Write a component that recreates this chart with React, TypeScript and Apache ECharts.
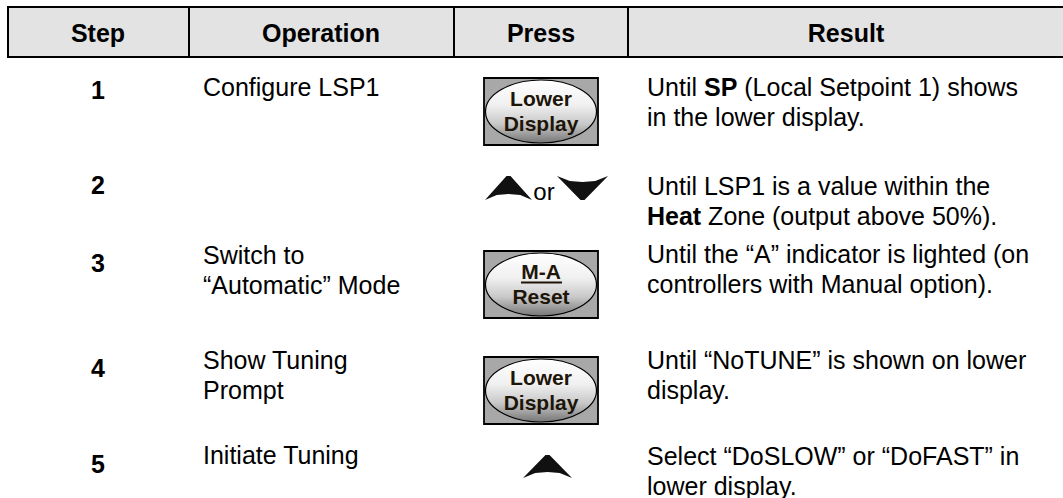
import React, { useEffect, useRef } from 'react';
import * as echarts from 'echarts';

// ---------- data ----------
const HEADERS = ['Step', 'Operation', 'Press', 'Result'];
const STEPS = ['1', '2', '3', '4', '5'];
const OPERATIONS = [
  ['Configure LSP1'],
  [],
  ['Switch to', '“Automatic” Mode'],
  ['Show Tuning', 'Prompt'],
  ['Initiate Tuning'],
];
const PRESS = ['lowerDisplay', 'upOrDown', 'maReset', 'lowerDisplay', 'up'];
const RESULTS = [
  ['Until {b|SP} (Local Setpoint 1) shows', 'in the lower display.'],
  ['Until LSP1 is a value within the', '{b|Heat} Zone (output above 50%).'],
  ['Until the “A” indicator is lighted (on', 'controllers with Manual option).'],
  ['Until “NoTUNE” is shown on lower', 'display.'],
  ['Select “DoSLOW” or “DoFAST” in', 'lower display.'],
];

// ---------- layout ----------
const FONT = '"Liberation Sans", Arial, Helvetica, sans-serif';
const FS = 25;
const HFS = 25;
const LINE = 30;
const TABLE_LEFT = 8;
const TABLE_TOP = 7;
const HEADER_H = 50;
const COL_X = [8, 189, 454, 628, 1070];
const HEADER_CX = [98, 321, 541, 846];
const STEP_Y = [90, 185, 263, 368, 464];
const OP_Y = [87, 0, 255, 360, 455];
const RES_Y = [87, 186, 254, 360, 456];
const BTN_Y = [78, 0, 251, 357, 0];
const ARROW_Y = [0, 176, 0, 0, 455];
const BTN_X = 484;
const BTN_W = 114;
const BTN_H = 67;
const STEP_X = 98;
const OP_X = 203;
const RES_X = 647;

function txt(x: number, y: number, text: string, opts: any = {}) {
  const style: any = {
    text,
    fill: opts.fill || '#000',
    fontSize: opts.fontSize || FS,
    fontFamily: FONT,
    fontWeight: opts.bold ? 'bold' : 'normal',
    align: opts.align || 'left',
    textAlign: opts.align || 'left',
    verticalAlign: 'middle',
    textVerticalAlign: 'middle',
  };
  if (text.indexOf('{b|') >= 0) {
    style.rich = {
      b: { fontWeight: 'bold', fontSize: opts.fontSize || FS, fontFamily: FONT, fill: '#000' },
    };
  }
  return { type: 'text', x, y, silent: true, style };
}

function button(y: number, lines: string[], underlineFirst: boolean) {
  const cx = BTN_X + BTN_W / 2;
  const cy = y + BTN_H / 2;
  const els: any[] = [
    {
      type: 'rect',
      shape: { x: BTN_X, y, width: BTN_W, height: BTN_H },
      style: { fill: '#a8a8a8', stroke: '#000', lineWidth: 1.8 },
    },
    {
      type: 'ellipse',
      shape: { cx, cy, rx: BTN_W / 2 - 1.5, ry: BTN_H / 2 - 2 },
      style: {
        fill: new echarts.graphic.LinearGradient(0, 0, 0, 1, [
          { offset: 0, color: '#ffffff' },
          { offset: 0.4, color: '#f0f0f0' },
          { offset: 0.7, color: '#c8c8c8' },
          { offset: 1, color: '#767676' },
        ]),
        stroke: '#000',
        lineWidth: 1.2,
      },
    },
  ];
  const ly = [cy - 13, cy + 12];
  lines.forEach((l, i) => {
    els.push(txt(cx, ly[i], l, { bold: true, fontSize: 21, align: 'center', fill: '#1e1509' }));
  });
  if (underlineFirst) {
    els.push({
      type: 'line',
      shape: { x1: cx - 20, y1: ly[0] + 11, x2: cx + 21, y2: ly[0] + 11 },
      style: { stroke: '#1e1509', lineWidth: 1.8 },
    });
  }
  return els;
}

function upArrow(left: number, top: number, w: number, h: number) {
  const cx = left + w / 2;
  return {
    type: 'polygon',
    shape: {
      points: [
        [cx - 2, top],
        [cx + 2, top],
        [left + w, top + h],
        [cx + w * 0.25, top + h - 5],
        [cx, top + h - 6],
        [cx - w * 0.25, top + h - 5],
        [left, top + h],
      ],
    },
    style: { fill: '#111' },
  };
}

function downArrow(left: number, top: number, w: number, h: number) {
  const cx = left + w / 2;
  return {
    type: 'polygon',
    shape: {
      points: [
        [left, top],
        [cx - w * 0.25, top + 5],
        [cx, top + 6],
        [cx + w * 0.25, top + 5],
        [left + w, top],
        [cx + 2, top + h],
        [cx - 2, top + h],
      ],
    },
    style: { fill: '#111' },
  };
}

function buildElements() {
  const els: any[] = [];
  els.push({
    type: 'rect',
    shape: { x: TABLE_LEFT, y: TABLE_TOP, width: COL_X[4] - TABLE_LEFT, height: HEADER_H },
    style: { fill: '#e3e3e3', stroke: '#000', lineWidth: 2 },
  });
  for (let i = 1; i < 4; i++) {
    els.push({
      type: 'line',
      shape: { x1: COL_X[i], y1: TABLE_TOP, x2: COL_X[i], y2: TABLE_TOP + HEADER_H },
      style: { stroke: '#000', lineWidth: 2 },
    });
  }
  HEADERS.forEach((h, i) => {
    els.push(txt(HEADER_CX[i], TABLE_TOP + HEADER_H / 2 + 1, h, { bold: true, align: 'center', fontSize: HFS }));
  });

  STEPS.forEach((s, r) => {
    els.push(txt(STEP_X, STEP_Y[r], s, { bold: true, align: 'center' }));
    OPERATIONS[r].forEach((l, k) => {
      els.push(txt(OP_X, OP_Y[r] + k * LINE, l));
    });
    RESULTS[r].forEach((l, k) => {
      els.push(txt(RES_X, RES_Y[r] + k * LINE, l));
    });
    const p = PRESS[r];
    if (p === 'lowerDisplay') els.push(...button(BTN_Y[r], ['Lower', 'Display'], false));
    if (p === 'maReset') els.push(...button(BTN_Y[r], ['M-A', 'Reset'], true));
    if (p === 'upOrDown') {
      els.push(upArrow(485, ARROW_Y[r], 47, 24));
      els.push(txt(544, ARROW_Y[r] + 15, 'or', { align: 'center', fontSize: 24 }));
      els.push(downArrow(557, ARROW_Y[r], 51, 24));
    }
    if (p === 'up') els.push(upArrow(523, ARROW_Y[r], 49, 23));
  });
  return els;
}

export default function App() {
  const ref = useRef<HTMLDivElement>(null);
  useEffect(() => {
    document.body.style.margin = '0';
    const chart = echarts.init(ref.current!, null, { renderer: 'svg' });
    chart.setOption({
      animation: false,
      backgroundColor: '#ffffff',
      graphic: { elements: buildElements() },
    });
    return () => chart.dispose();
  }, []);
  return <div ref={ref} style={{ width: 1063, height: 498 }} />;
}
